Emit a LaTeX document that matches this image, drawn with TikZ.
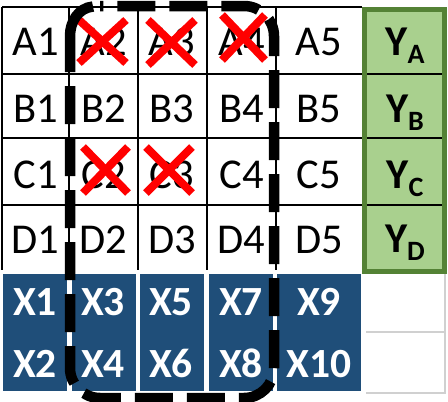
\documentclass[tikz,border=0pt]{standalone}
\usepackage{fontspec}
\setmainfont{Carlito}
\definecolor{xblue}{HTML}{1F4E79}
\definecolor{yfill}{HTML}{A9D08E}
\definecolor{yborder}{HTML}{548235}
\definecolor{gridgray}{HTML}{D0D0D0}
\tikzset{
  cell/.style={font=\fontsize{42.5}{42.5}\selectfont, inner sep=0pt, anchor=base},
  xcell/.style={font=\fontsize{41.5}{41.5}\selectfont\bfseries, text=white, inner sep=0pt, anchor=base},
  ycell/.style={font=\fontsize{42.5}{42.5}\selectfont\bfseries, inner sep=0pt, anchor=base},
  gridline/.style={line width=1.6pt, black},
  grayline/.style={line width=2pt, gridgray},
  cross/.style={red, line width=8pt},
  xbox/.style={fill=xblue},
  loopline/.style={line width=10.5pt, black, dash pattern=on 38pt off 14pt, dash phase=38pt, rounded corners=30pt},
  loopsolid/.style={line width=10.5pt, black}
}
\begin{document}
\begin{tikzpicture}[x=1pt,y=-1pt]
\path[use as bounding box, fill=white] (0,0) rectangle (448,402);
% white grid
\foreach \x in {2,69,138,207,276} \draw[gridline] (\x,7) -- (\x,270);
\foreach \y in {7,74,138,205} \draw[gridline] (2,\y) -- (362,\y);
% green column
\fill[yfill] (364,9) rectangle (444.5,271);
\foreach \y in {74,138,205} \draw[gridline] (364,\y) -- (444.5,\y);
\draw[yborder, line width=5pt] (364,9) rectangle (444.5,271);
% blue blocks
\fill[xbox] (3,274) rectangle (67,391);
\fill[xbox] (72,274) rectangle (136,391);
\fill[xbox] (140,274) rectangle (204,391);
\fill[xbox] (209,274) rectangle (273,391);
\fill[xbox] (277,274) rectangle (361,391);
% empty gray cells
\draw[gridgray, line width=1.2pt] (366,332) -- (445,332);
\draw[grayline] (366,393) -- (446,393);
\draw[grayline] (445,274) -- (445,394);
% cell texts
\foreach \r/\b in {A/55,B/122,C/188,D/253}{
  \node[cell] (\r1) at (35.5,\b) {\r1};
  \node[cell] (\r2) at (103.5,\b) {\r2};
  \node[cell] (\r3) at (172,\b) {\r3};
  \node[cell] (\r4) at (241.5,\b) {\r4};
  \node[cell] (\r5) at (319,\b) {\r5};
}
% X texts
\node[xcell] (X1) at (35,315) {X1};
\node[xcell] (X2) at (35,377) {X2};
\node[xcell] (X3) at (103,315) {X3};
\node[xcell] (X4) at (103,377) {X4};
\node[xcell] (X5) at (171,315) {X5};
\node[xcell] (X6) at (171,377) {X6};
\node[xcell] (X7) at (241,315) {X7};
\node[xcell] (X8) at (241,377) {X8};
\node[xcell] (X9) at (319,315) {X9};
\node[xcell] (X10) at (319,377) {X10};
% Y texts
\node[ycell] (YA) at (405,55) {Y\raisebox{-8pt}{\fontsize{28}{28}\selectfont A}};
\node[ycell] (YB) at (405,122) {Y\raisebox{-8pt}{\fontsize{28}{28}\selectfont B}};
\node[ycell] (YC) at (405,188) {Y\raisebox{-8pt}{\fontsize{28}{28}\selectfont C}};
\node[ycell] (YD) at (405,252) {Y\raisebox{-8pt}{\fontsize{28}{28}\selectfont D}};
% red crosses
\foreach \cx/\cy/\hx/\hy in {102.5/41.5/23.5/21.5, 171.5/42.5/23.5/22.5, 243.5/37.5/21.5/22.5, 105.5/170/22.5/23, 169/170/23/23}{
  \draw[cross] (\cx-\hx,\cy-\hy) -- (\cx+\hx,\cy+\hy);
  \draw[cross] (\cx-\hx,\cy+\hy) -- (\cx+\hx,\cy-\hy);
}
% dashed rounded loop
\coordinate (L0) at (70,72);
\coordinate (LB) at (70,398);
\coordinate (RB) at (274,398);
\coordinate (RT) at (274,6);
\coordinate (T0) at (100,6);
\draw[loopline] (L0) -- (LB) -- (RB) -- (RT) -- (T0);
\draw[loopsolid] (L0) -- (70,36) .. controls (70,22) and (78,8) .. (93,6.5);
\end{tikzpicture}
\end{document}
